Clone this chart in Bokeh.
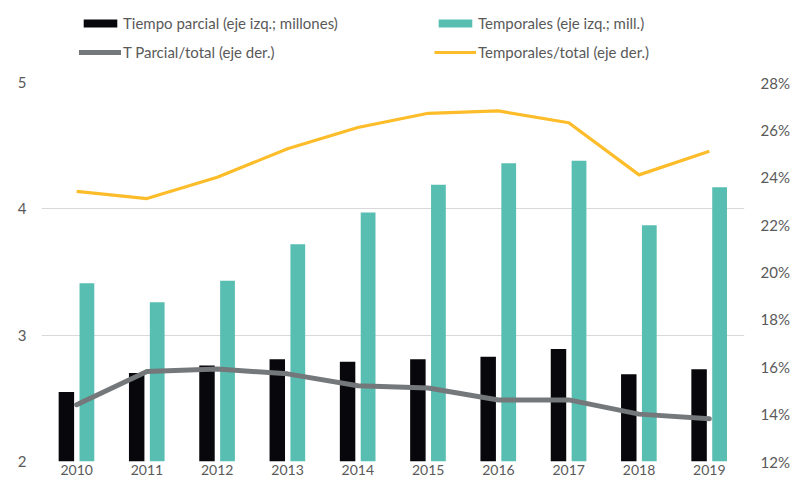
from bokeh.plotting import figure
from bokeh.layouts import column
from bokeh.models import (FactorRange, Range1d, LinearAxis, FixedTicker, NumeralTickFormatter,
                          Legend, LegendItem, ColumnDataSource)
from bokeh.transform import dodge
from bokeh.embed import file_html
from bokeh.resources import INLINE

years = ["2010", "2011", "2012", "2013", "2014", "2015", "2016", "2017", "2018", "2019"]
tiempo_parcial = [2.55, 2.70, 2.76, 2.81, 2.79, 2.81, 2.83, 2.89, 2.69, 2.73]
temporales = [3.41, 3.26, 3.43, 3.72, 3.97, 4.19, 4.36, 4.38, 3.87, 4.17]
parcial_total = [0.144, 0.158, 0.159, 0.157, 0.152, 0.151, 0.146, 0.146, 0.140, 0.138]
temporales_total = [0.234, 0.231, 0.240, 0.252, 0.261, 0.267, 0.268, 0.263, 0.241, 0.251]
left_ticks = [2, 3, 4, 5]
right_ticks = [0.12, 0.14, 0.16, 0.18, 0.20, 0.22, 0.24, 0.26, 0.28]
legend_labels = ["Tiempo parcial (eje izq.; millones)", "T Parcial/total (eje der.)",
                 "Temporales (eje izq.; mill.)", "Temporales/total (eje der.)"]

FONT = "Lato"
TXT = "#595959"
BLACK = "#08080c"
TEAL = "#57beb1"
GRAY = "#75787b"
YELLOW = "#fdbd2a"

src = ColumnDataSource(dict(year=years, tp=tiempo_parcial, tm=temporales,
                            pt=parcial_total, tt=temporales_total))

p = figure(width=792, height=426, x_range=FactorRange(*years), y_range=Range1d(2, 5),
           output_backend="svg", toolbar_location=None,
           min_border_left=41, min_border_right=47, min_border_top=20, min_border_bottom=27)
p.outline_line_color = None
p.extra_y_ranges = {"pct": Range1d(0.12, 0.28)}

p.xgrid.grid_line_color = None
p.ygrid.grid_line_color = "#d9d9d9"
p.ygrid.grid_line_width = 1
p.yaxis.ticker = FixedTicker(ticks=left_ticks)

bar_tp = dict(fill_color=BLACK, line_color=None)
bar_tm = dict(fill_color=TEAL, line_color=None)
ln_pt = dict(line_color=GRAY, line_width=5, line_cap="round", line_join="round")
ln_tt = dict(line_color=YELLOW, line_width=3.2, line_join="round")

p.vbar(x=dodge("year", -0.146, range=p.x_range), top="tp", bottom=2, width=0.22,
       source=src, **bar_tp)
p.vbar(x=dodge("year", 0.146, range=p.x_range), top="tm", bottom=2, width=0.21,
       source=src, **bar_tm)
p.line(x="year", y="pt", source=src, y_range_name="pct", **ln_pt)
p.line(x="year", y="tt", source=src, y_range_name="pct", **ln_tt)

ax_r = LinearAxis(y_range_name="pct", ticker=FixedTicker(ticks=right_ticks),
                  formatter=NumeralTickFormatter(format="0%"))
p.add_layout(ax_r, "right")

for ax in [p.xaxis[0], p.yaxis[0], ax_r]:
    ax.axis_line_color = None
    ax.major_tick_line_color = None
    ax.minor_tick_line_color = None
    ax.major_tick_out = 0
    ax.major_tick_in = 0
    ax.minor_tick_out = 0
    ax.minor_tick_in = 0
    ax.major_label_text_font = FONT
    ax.major_label_text_color = TXT
    ax.major_label_text_font_size = "15px"
p.yaxis[0].major_label_standoff = 15
ax_r.major_label_standoff = 16
p.xaxis[0].major_label_standoff = 3
p.xaxis[0].major_label_text_font_size = "14px"

# legend strip above the chart (its glyph renderers lie far outside the visible range)
lf = figure(width=792, height=62, x_range=Range1d(20, 21), y_range=Range1d(20, 21),
            output_backend="svg", toolbar_location=None, min_border=0)
lf.axis.visible = False
lf.grid.visible = False
lf.outline_line_color = None
g_tp = lf.vbar(x="tp", top="tp", bottom="tp", width=0.1, source=src, **bar_tp)
g_pt = lf.line(x="tp", y="tm", source=src, **ln_pt)
g_tm = lf.vbar(x="tm", top="tm", bottom="tm", width=0.1, source=src, **bar_tm)
g_tt = lf.line(x="tm", y="tp", source=src, **ln_tt)

items = [LegendItem(label=lab, renderers=[r])
         for lab, r in zip(legend_labels, [g_tp, g_pt, g_tm, g_tt])]
lg = Legend(items=items, location=(38, 0), orientation="vertical", ncols=2,
            glyph_width=42, glyph_height=10, label_height=20, label_width=302, spacing=9,
            label_standoff=2, padding=0, margin=0, border_line_color=None,
            background_fill_alpha=0, label_text_font=FONT,
            label_text_font_size="15px", label_text_color=TXT)
lf.add_layout(lg, "center")

layout = column(lf, p, spacing=0)
open("out.html", "w").write(file_html(layout, INLINE))
